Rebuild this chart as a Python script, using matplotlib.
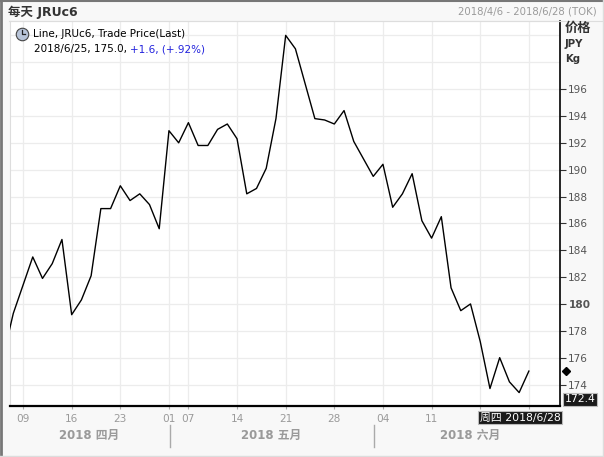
import matplotlib
matplotlib.use("Agg")
import matplotlib.pyplot as plt
from matplotlib.lines import Line2D
import matplotlib.transforms as mtransforms

plt.rcParams['font.family'] = ['DejaVu Sans', 'Noto Sans CJK SC']

# ---- data -------------------------------------------------------------
dates = ["04-05", "04-06",
         "04-09", "04-10", "04-11", "04-12", "04-13",
         "04-16", "04-17", "04-18", "04-19", "04-20",
         "04-23", "04-24", "04-25", "04-26", "04-27",
         "05-01", "05-02",
         "05-07", "05-08", "05-09", "05-10", "05-11",
         "05-14", "05-15", "05-16", "05-17", "05-18",
         "05-21", "05-22", "05-23", "05-24", "05-25",
         "05-28", "05-29", "05-30", "05-31", "06-01",
         "06-04", "06-05", "06-06", "06-07", "06-08",
         "06-11", "06-12", "06-13", "06-14", "06-15",
         "06-18", "06-19", "06-20", "06-21", "06-22",
         "06-25", "06-26", "06-27", "06-28"]

prices = [176.2, 179.3,
          181.4, 183.5, 181.9, 183.0, 184.8,
          179.2, 180.3, 182.1, 187.1, 187.1,
          188.8, 187.7, 188.2, 187.4, 185.6,
          192.9, 192.0,
          193.5, 191.8, 191.8, 193.0, 193.4,
          192.3, 188.2, 188.6, 190.1, 193.8,
          200.0, 199.0, 196.4, 193.8, 193.7,
          193.4, 194.4, 192.1, 190.8, 189.5,
          190.4, 187.2, 188.2, 189.7, 186.2,
          184.9, 186.5, 181.2, 179.5, 180.0,
          177.2, 173.7, 176.0, 174.2, 173.4,
          175.0]

tick_dates = ["04-09", "04-16", "04-23", "05-01", "05-07", "05-14", "05-21",
              "05-28", "06-04", "06-11", "06-18", "06-25"]
tick_labels = ["09", "16", "23", "01", "07", "14", "21", "28", "04", "11", "18", "25"]
hidden_tick_labels = ["18", "25"]   # covered by the date box in the reference

month_starts = ["04-05", "05-01", "06-01"]
month_labels = ["2018 四月", "2018 五月", "2018 六月"]

y_ticks = [174, 176, 178, 180, 182, 184, 186, 188, 190, 192, 194, 196]
y_grid_extra = [198, 200]
y_bottom = 172.4
y_top = 201.07

title = "每天 JRUc6"
range_text = "2018/4/6 - 2018/6/28 (TOK)"
legend_line1 = "Line, JRUc6, Trade Price(Last)"
legend_black = "2018/6/25, 175.0, "
legend_blue = "+1.6, (+.92%)"
last_date_box = "周四 2018/6/28"

# ---- figure -----------------------------------------------------------
W, H = 604, 457
fig = plt.figure(figsize=(W / 100, H / 100), dpi=100, facecolor="#f8f8f8")


def fx(px):
    return px / W


def fy(py):
    return 1 - py / H


FS = 7.3

ax_l, ax_r, ax_t, ax_b = 10, 560, 21, 406
ax = fig.add_axes([fx(ax_l), fy(ax_b), fx(ax_r - ax_l), (ax_b - ax_t) / H])
ax.set_facecolor("white")

xs = list(range(len(prices)))
ax.plot(xs, prices, color="black", lw=1.0, zorder=3)

ax.set_xlim(0.66, 57.2)
ax.set_ylim(y_bottom, y_top)

# y axis on the right
ax.yaxis.tick_right()
ax.set_yticks(y_ticks)
ax.set_yticklabels([str(v) for v in y_ticks])
ax.tick_params(axis="y", which="both", direction="out", length=4, width=0.8,
               color="#333333", labelcolor="#555555", labelsize=FS + 0.3, pad=2)
for t in ax.get_yticklabels():
    if t.get_text() == "180":
        t.set_fontweight("bold")
for v in y_grid_extra:
    ax.axhline(v, color="#ececec", lw=0.9, zorder=0)

# x axis
tick_pos = [dates.index(d) for d in tick_dates]
ax.set_xticks(tick_pos)
ax.set_xticklabels(tick_labels)
ax.tick_params(axis="x", direction="out", length=2.5, width=0.8,
               color="#aaaaaa", labelcolor="#9a9a9a", labelsize=FS + 0.3, pad=3)
for t in ax.get_xticklabels():
    if t.get_text() in hidden_tick_labels:
        t.set_visible(False)

ax.grid(True, color="#ececec", lw=0.9, zorder=0)
ax.set_axisbelow(True)

for s in ("top", "left"):
    ax.spines[s].set_color("#dddddd")
    ax.spines[s].set_linewidth(0.8)
ax.spines["bottom"].set_color("black")
ax.spines["bottom"].set_linewidth(1.6)
ax.spines["right"].set_color("black")
ax.spines["right"].set_linewidth(1.2)

# month separators and labels
trans = mtransforms.blended_transform_factory(ax.transData, fig.transFigure)
starts = [dates.index(m) for m in month_starts]
bounds = [0.66] + starts[1:] + [len(dates)]
for i, lab in enumerate(month_labels):
    mid = (bounds[i] + bounds[i + 1]) / 2
    ax.text(mid, fy(435), lab, transform=trans, ha="center", va="center",
            fontsize=8.5, fontweight="bold", color="#9a9a9a", clip_on=False)
for s in starts[1:]:
    ax.add_line(Line2D([s + 0.1, s + 0.1], [fy(425), fy(447)], transform=trans,
                       color="#aaaaaa", lw=1.0, clip_on=False))

# last value diamond marker
tr_y = mtransforms.blended_transform_factory(ax.transAxes, ax.transData)
ax.plot([1.011], [prices[-1]], marker="D", ms=4, color="black",
        transform=tr_y, clip_on=False)

# ---- figure decorations -----------------------------------------------
fig.add_artist(Line2D([fx(9), fx(603)], [fy(21), fy(21)], color="#dddddd", lw=0.8))
fig.add_artist(Line2D([fx(1), fx(1)], [0, 1], color="#777777", lw=2.0))
fig.add_artist(Line2D([0, 1], [fy(0.8), fy(0.8)], color="#777777", lw=1.5))
fig.add_artist(Line2D([0, 1], [fy(456), fy(456)], color="#dddddd", lw=1.0))
fig.add_artist(Line2D([fx(603), fx(603)], [0, 1], color="#dddddd", lw=1.0))

fig.text(fx(8), fy(12), title, fontsize=9, fontweight="bold", color="#333333",
         ha="left", va="center")
fig.text(fx(597), fy(12), range_text, fontsize=FS, color="#9a9a9a",
         ha="right", va="center")

fig.text(fx(565), fy(28), "价格", fontsize=9.5, fontweight="bold", color="#333333",
         ha="left", va="center")
fig.text(fx(565), fy(44), "JPY", fontsize=7.3, fontweight="bold", color="#333333",
         ha="left", va="center")
fig.text(fx(565), fy(59), "Kg", fontsize=7.3, fontweight="bold", color="#333333",
         ha="left", va="center")

# legend icon
fig.add_artist(Line2D([fx(22)], [fy(34)], marker="o", ms=9, mfc="#b8c4d8",
                      mec="#444444", mew=0.8))
fig.add_artist(Line2D([fx(22), fx(22), fx(25)], [fy(30), fy(34), fy(34)],
                      color="#222222", lw=0.9))
fig.text(fx(33), fy(34), legend_line1, fontsize=FS + 0.2, color="black",
         ha="left", va="center")
t1 = fig.text(fx(34), fy(49), legend_black, fontsize=FS + 0.2, color="black",
              ha="left", va="center")
ax.annotate(legend_blue, xy=(1, 0), xycoords=t1, fontsize=FS + 0.2, color="#2222dd",
            ha="left", va="bottom", annotation_clip=False)

# bottom value box
fig.text(fx(580), fy(399.5), f"{y_bottom:.1f}", fontsize=FS + 0.5, color="white",
         ha="center", va="center",
         bbox=dict(boxstyle="square,pad=0.15", fc="#1a1a1a", ec="#bbbbbb", lw=0.8))
fig.text(fx(520), fy(417.5), last_date_box, fontsize=FS + 0.5, color="white",
         ha="center", va="center",
         bbox=dict(boxstyle="square,pad=0.12", fc="#1a1a1a", ec="#bbbbbb", lw=0.8))

fig.savefig("out.png", dpi=100, facecolor=fig.get_facecolor())
